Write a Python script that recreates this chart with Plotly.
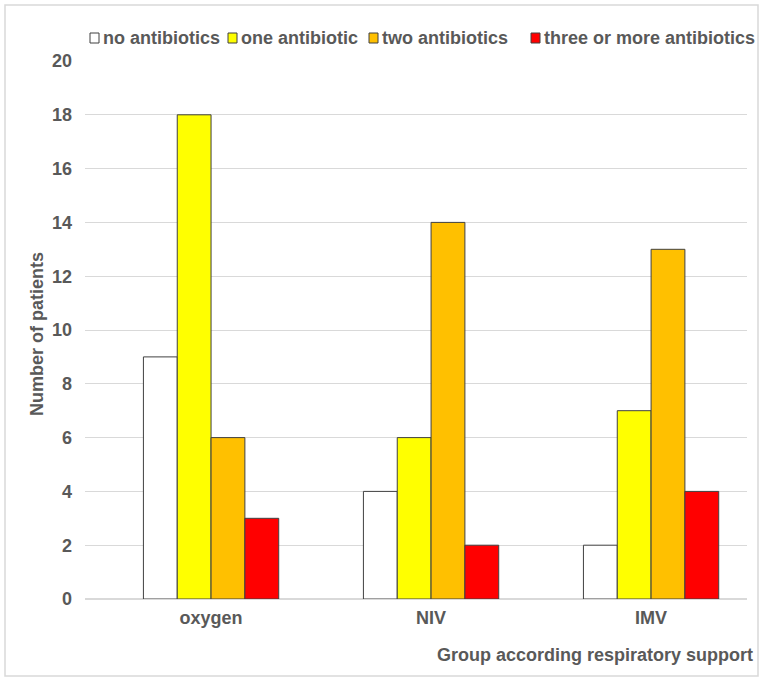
import plotly.graph_objects as go

categories = ["oxygen", "NIV", "IMV"]
series_names = ["no antibiotics", "one antibiotic", "two antibiotics", "three or more antibiotics"]
no_antibiotics = [9, 4, 2]
one_antibiotic = [18, 6, 7]
two_antibiotics = [6, 14, 13]
three_or_more = [3, 2, 4]
y_ticks = [0, 2, 4, 6, 8, 10, 12, 14, 16, 18, 20]

colors = ["#FFFFFF", "#FFFF00", "#FFC000", "#FF0000"]
values = [no_antibiotics, one_antibiotic, two_antibiotics, three_or_more]

fig = go.Figure()
for name, vals, col in zip(series_names, values, colors):
    fig.add_trace(go.Bar(
        x=categories, y=vals, name=name, showlegend=False,
        marker=dict(color=col, line=dict(color="#404040", width=1)),
    ))

font_col = "#595959"
FONT = "Arial, Liberation Sans"
L, R, T, B = 85, 18, 61, 82
W, H = 765, 681
pw, ph = W - L - R, H - T - B


def px_x(x):
    return (x - L) / pw


def px_y(y):
    return (H - B - y) / ph


# legend built from the series names (layout positions in pixels)
legend_sq_x = [90, 228, 369, 531]
shapes = [dict(type="rect", xref="paper", yref="paper",
               x0=px_x(5), x1=px_x(758), y0=px_y(676), y1=px_y(5),
               line=dict(color="#D9D9D9", width=1.5), fillcolor="rgba(0,0,0,0)", layer="below")]
annotations = []
for name, col, sx in zip(series_names, colors, legend_sq_x):
    shapes.append(dict(type="rect", xref="paper", yref="paper",
                       x0=px_x(sx), x1=px_x(sx + 9), y0=px_y(43), y1=px_y(33),
                       line=dict(color="#404040", width=1), fillcolor=col))
    annotations.append(dict(text=name, xref="paper", yref="paper",
                            x=px_x(sx + 11), y=px_y(38), xanchor="left", yanchor="middle",
                            showarrow=False,
                            font=dict(size=18, color=font_col, family=FONT, weight="bold")))

annotations += [
    dict(text="Number of patients", xref="paper", yref="paper",
         x=px_x(37), y=px_y(334), textangle=-90, showarrow=False,
         font=dict(size=18, color=font_col, family=FONT, weight="bold"),
         xanchor="center", yanchor="middle"),
    dict(text="Group according respiratory support", xref="paper", yref="paper",
         x=px_x(755), y=px_y(655), showarrow=False,
         font=dict(size=18, color=font_col, family=FONT, weight="bold"),
         xanchor="right", yanchor="middle"),
]

fig.update_layout(
    width=W, height=H,
    margin=dict(l=L, r=R, t=T, b=B, autoexpand=False),
    paper_bgcolor="white", plot_bgcolor="white",
    barmode="group", bargap=0.385, bargroupgap=0,
    font=dict(family=FONT, size=18, color=font_col),
    showlegend=False,
    xaxis=dict(range=[-0.573, 2.436], showgrid=False, zeroline=False, showline=False,
               ticks="", tickfont=dict(size=18, color=font_col, weight="bold"), ticklabelstandoff=6),
    yaxis=dict(range=[0, 20], tickvals=y_ticks, showgrid=True, gridcolor="#D9D9D9", gridwidth=1,
               zeroline=True, zerolinecolor="#D9D9D9", showline=False, ticks="",
               tickfont=dict(size=18, color=font_col, weight="bold"), ticklabelstandoff=12),
    shapes=shapes,
    annotations=annotations,
)

fig.write_html("out.html")
